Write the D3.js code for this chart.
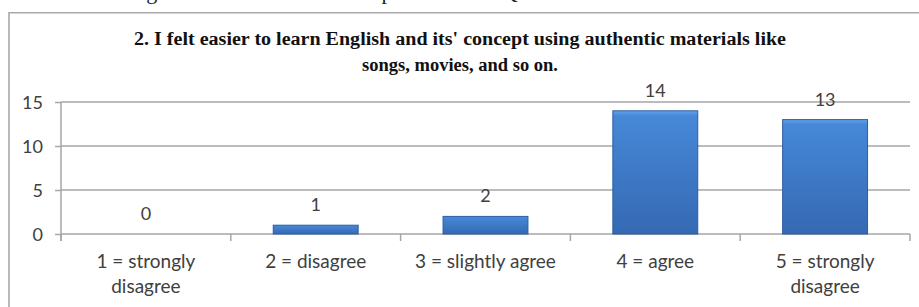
<!DOCTYPE html>
<html lang="en">
  <head>
    <meta charset="UTF-8" />
    <title>Questionnaire item 2</title>
    <script src="https://d3js.org/d3.v7.min.js"></script>
    <style>
      body { margin: 0; background: #fff; }
    </style>
  </head>
  <body>
    <svg width="919" height="307"></svg>

    <script>
      // data
      const categories = [
        ["1 = strongly", "disagree"],
        ["2 = disagree"],
        ["3 = slightly agree"],
        ["4 = agree"],
        ["5 = strongly", "disagree"]
      ];
      const counts = [0, 1, 2, 14, 13];
      const yTicks = [0, 5, 10, 15];
      const titleLines = [
        "2. I felt easier to learn English and its' concept using authentic materials like",
        "songs, movies, and so on."
      ];
      const caption = "Figure 4.2 The Students' Responses to the Questionnaire Item 2";

      const svg = d3.select("svg");
      const width = +svg.attr("width");
      const height = +svg.attr("height");

      const plot = { left: 61, right: 910, top: 102, bottom: 234 };

      // page caption above the chart, cut off by the top edge
      svg.append("text")
        .attr("x", 128)
        .attr("y", -1)
        .attr("font-family", "Liberation Serif")
        .attr("font-size", 22)
        .attr("fill", "#222")
        .text(caption);

      // chart frame (only top and left edges are in view)
      svg.append("path")
        .attr("d", `M9,${height} V12.7 H${width}`)
        .attr("fill", "none")
        .attr("stroke", "#a9a9a9")
        .attr("stroke-width", 1.6);

      // title
      svg.append("g")
        .selectAll("text")
        .data(titleLines)
        .join("text")
        .attr("x", 460)
        .attr("y", (d, i) => 45 + i * 26)
        .attr("text-anchor", "middle")
        .attr("font-family", "Liberation Serif")
        .attr("font-weight", "bold")
        .attr("font-size", 18.5)
        .attr("fill", "#111")
        .each(function (d, i) {
          if (i === 0) {
            d3.select(this).attr("textLength", 652).attr("lengthAdjust", "spacingAndGlyphs");
          }
        })
        .text(d => d);

      const x = d3.scaleBand()
        .domain(d3.range(categories.length))
        .range([plot.left, plot.right])
        .paddingInner(0.5)
        .paddingOuter(0.25);

      const y = d3.scaleLinear()
        .domain([0, 15])
        .range([plot.bottom, plot.top]);

      // gradient for the bars
      const grad = svg.append("defs")
        .append("linearGradient")
        .attr("id", "barFill")
        .attr("x1", 0).attr("y1", 0)
        .attr("x2", 0).attr("y2", 1);
      grad.append("stop").attr("offset", "0%").attr("stop-color", "#64a3ea");
      grad.append("stop").attr("offset", "4%").attr("stop-color", "#4688d8");
      grad.append("stop").attr("offset", "100%").attr("stop-color", "#3569b3");

      // gridlines
      svg.append("g")
        .selectAll("line")
        .data(yTicks.filter(d => d > 0))
        .join("line")
        .attr("x1", plot.left)
        .attr("x2", plot.right)
        .attr("y1", d => y(d))
        .attr("y2", d => y(d))
        .attr("stroke", "#a6a6a6")
        .attr("stroke-width", 1.5);

      // y axis
      const yAxis = svg.append("g")
        .attr("transform", `translate(${plot.left},0)`)
        .call(d3.axisLeft(y).tickValues(yTicks).tickSize(6).tickPadding(12));
      yAxis.select(".domain")
        .attr("stroke", "#a6a6a6")
        .attr("stroke-width", 1.5)
        .attr("d", `M0,${y(15)} V${plot.bottom + 7}`);
      yAxis.selectAll(".tick line").attr("stroke", "#a6a6a6").attr("stroke-width", 1.5);
      yAxis.selectAll(".tick text")
        .attr("font-family", "Lato")
        .attr("font-size", 18)
        .attr("fill", "#404040")
        .attr("dy", "0.36em");

      // x axis line with category boundary ticks
      const bounds = d3.range(categories.length + 1).map(i =>
        i < categories.length ? x(i) - x.step() * x.paddingInner() / 2 : plot.right);
      svg.append("line")
        .attr("x1", plot.left)
        .attr("x2", plot.right)
        .attr("y1", y(0))
        .attr("y2", y(0))
        .attr("stroke", "#a6a6a6")
        .attr("stroke-width", 1.5);
      svg.append("g")
        .selectAll("line")
        .data(bounds)
        .join("line")
        .attr("x1", d => d)
        .attr("x2", d => d)
        .attr("y1", y(0))
        .attr("y2", y(0) + 7)
        .attr("stroke", "#a6a6a6")
        .attr("stroke-width", 1.5);

      // bars (zero counts get no bar)
      svg.append("g")
        .selectAll("rect")
        .data(counts.map((v, i) => ({ v, i })).filter(d => d.v > 0))
        .join("rect")
        .attr("x", d => x(d.i))
        .attr("y", d => y(d.v))
        .attr("width", x.bandwidth())
        .attr("height", d => y(0) - y(d.v))
        .attr("fill", "url(#barFill)")
        .attr("stroke", "#2d5d9e")
        .attr("stroke-width", 1);

      // value labels
      svg.append("g")
        .selectAll("text")
        .data(counts)
        .join("text")
        .attr("x", (d, i) => x(i) + x.bandwidth() / 2)
        .attr("y", d => y(d) - 14)
        .attr("text-anchor", "middle")
        .attr("font-family", "Lato")
        .attr("font-size", 18)
        .attr("fill", "#404040")
        .text(d => d);

      // category labels
      const catG = svg.append("g")
        .selectAll("text")
        .data(categories)
        .join("text")
        .attr("text-anchor", "middle")
        .attr("font-family", "Lato")
        .attr("font-size", 19)
        .attr("fill", "#404040");
      catG.selectAll("tspan")
        .data((d, i) => d.map(line => ({ line, i })))
        .join("tspan")
        .attr("x", d => x(d.i) + x.bandwidth() / 2)
        .attr("y", (d, j) => 268 + j * 25)
        .text(d => d.line);
    </script>
  </body>
</html>
